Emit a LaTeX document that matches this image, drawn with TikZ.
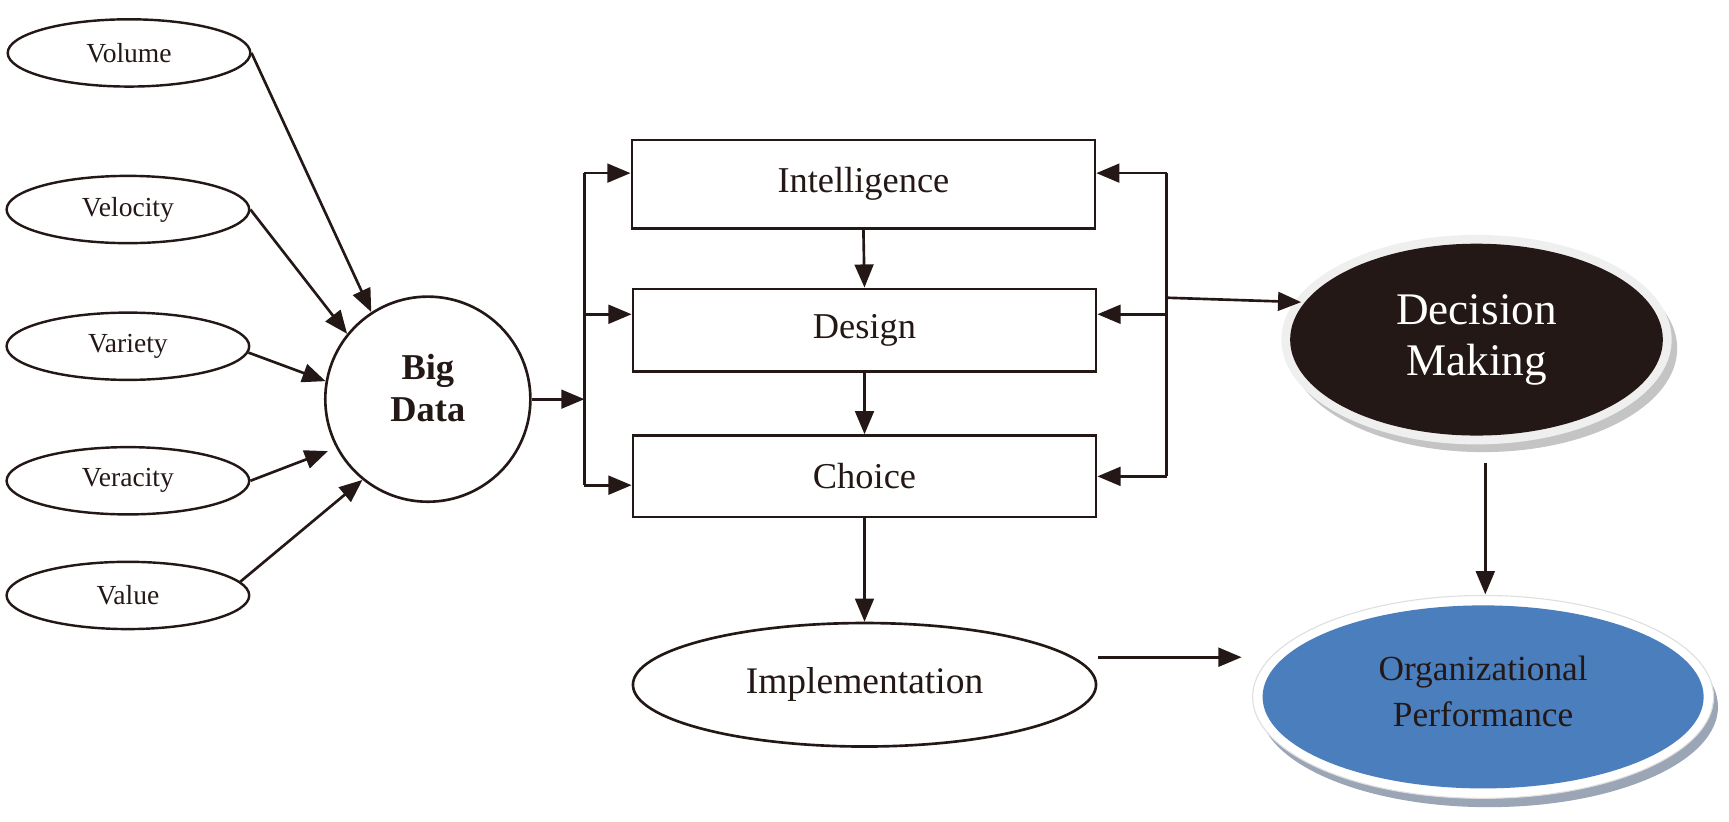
\documentclass[tikz,border=0pt]{standalone}
\usepackage{fontspec}
\setmainfont{Liberation Serif}
\usetikzlibrary{arrows.meta,shapes.geometric,calc}
\definecolor{ink}{HTML}{231815}
\definecolor{opblue}{HTML}{4A7EBD}
\definecolor{opshadow}{HTML}{9AA5B5}
\definecolor{dmshadow}{HTML}{C4C4C4}
\definecolor{dmrim}{HTML}{EFEFEF}
\begin{document}
\begin{tikzpicture}[x=1pt,y=-1pt,
  sm/.style={ellipse, draw=ink, line width=2.2pt, minimum width=220pt, minimum height=61pt, inner sep=0pt, text=ink, font=\fontsize{25}{30}\selectfont},
  stagebox/.style={rectangle, draw=ink, line width=2.4pt, minimum width=420pt, minimum height=76pt, inner sep=0pt, text=ink, font=\fontsize{33}{40}\selectfont},
  ln/.style={draw=ink, line width=2.4pt},
  arr/.style={draw=ink, line width=2.4pt, -{Triangle[length=21pt,width=17pt]}},
]
\useasboundingbox (0,0) rectangle (1568,744.6);

% left ellipses
\node[sm] (vol) at (117,48) {Volume};
\node[sm] (vel) at (116,190) {Velocity};
\node[sm] (var) at (116,314) {Variety};
\node[sm] (ver) at (116,436) {Veracity};
\node[sm] (val) at (116,540) {Value};

% big data
\node[circle, draw=ink, line width=2.4pt, minimum size=186pt, inner sep=0pt,
      label={[yshift=10pt, align=center, text=ink, font=\bfseries\fontsize{33}{38}\selectfont]center:Big\\Data}] (bd) at (388,362) {};

% stages
\node[stagebox, minimum height=80pt] (int) at (783,167) {Intelligence};
\node[stagebox, minimum height=75pt] (des) at (784,299.5) {Design};
\node[stagebox, minimum height=74pt] (cho) at (784,432) {Choice};
\node[ellipse, draw=ink, line width=2.4pt, minimum width=420pt, minimum height=112pt, inner sep=0pt, text=ink,
      font=\fontsize{34}{40}\selectfont] (imp) at (784,621) {Implementation};

% decision making
\fill[dmshadow] (1345,316) ellipse [x radius=176, y radius=94];
\fill[dmrim] (1339,308) ellipse [x radius=177, y radius=95];
\node[ellipse, fill=ink, minimum width=338pt, minimum height=174pt, inner sep=0pt, align=center, text=white,
      font=\fontsize{41}{46}\selectfont] (dm) at (1339,308) {Decision\\Making};

% organizational performance
\fill[opshadow] (1350,641) ellipse [x radius=208, y radius=91];
\filldraw[fill=white, draw=gray!25, line width=1pt] (1345,632) ellipse [x radius=209, y radius=92];
\node[ellipse, fill=opblue, minimum width=400pt, minimum height=166pt, inner sep=0pt,
      label={[yshift=5pt, align=center, text=ink, font=\fontsize{32}{41}\selectfont]center:Organizational\\Performance}] (op) at (1345,632) {};

% V arrows
\draw[arr] (vol.east) -- (bd.123);
\draw[arr] (vel.east) -- (bd.141);
\draw[arr] (var.-3) -- (bd.170);
\draw[arr, shorten >=8pt] (ver.east) -- (bd.208);
\draw[arr] (val.7) -- (bd.231);

% left bus
\coordinate (lb) at (530,362);
\coordinate (lbt) at (530,157);
\coordinate (lbm) at (530,285);
\coordinate (lbb) at (530,440);
\draw[arr] (bd.east) -- (lb);
\draw[ln] (lbt) -- (lbb);
\draw[arr] (lbt) -- (lbt -| int.west);
\draw[arr] (lbm) -- (lbm -| des.west);
\draw[arr] (lbb) -- (lbb -| cho.west);

% vertical flow
\draw[arr] (int.south) -- (des.north);
\draw[arr] (des.south) -- (cho.north);
\draw[arr] (cho.south) -- (imp.north);

% right bus
\coordinate (rbt) at (1058,157);
\coordinate (rbm) at (1058,285);
\coordinate (rbb) at (1058,432);
\coordinate (rbd) at (1058,270);
\coordinate (dmin) at (1180,274);
\draw[ln] (rbt) -- (rbb);
\draw[arr] (rbt) -- (rbt -| int.east);
\draw[arr] (rbm) -- (rbm -| des.east);
\draw[arr] (rbb) -- (rbb -| cho.east);
\draw[arr] (rbd) -- (dmin);

% to organizational performance
\coordinate (dmb) at (1347,420);
\coordinate (opt) at (1347,539);
\draw[arr] (dmb) -- (opt);
\coordinate (ima) at (996,596);
\coordinate (imb) at (1126,596);
\draw[arr] (ima) -- (imb);
\end{tikzpicture}
\end{document}
